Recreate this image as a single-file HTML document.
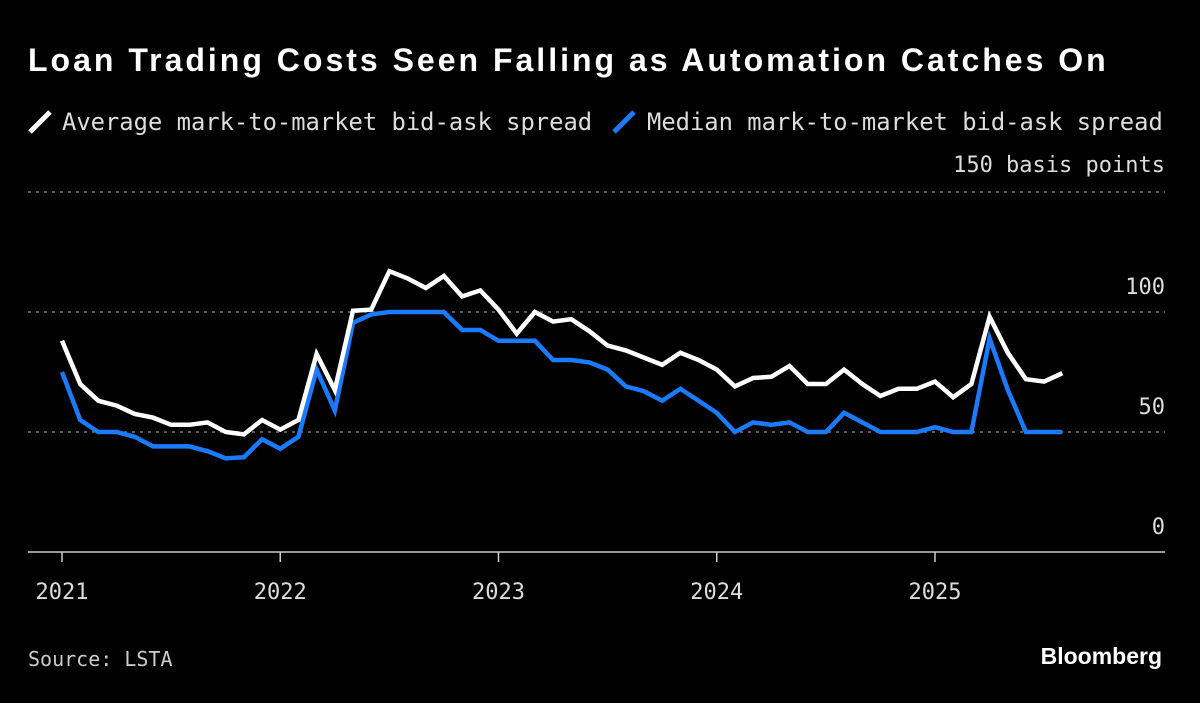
<!DOCTYPE html>
<html><head><meta charset="utf-8"><style>
body{margin:0;background:#000;width:1200px;height:698px;overflow:hidden;font-family:"Liberation Sans",sans-serif;color:#fff}
</style></head><body>
<svg width="1200" height="698" xmlns="http://www.w3.org/2000/svg">
<rect width="1200" height="698" fill="#000"/>
<text x="28" y="71" font-size="32" font-weight="bold" letter-spacing="3.0" fill="#fff">Loan Trading Costs Seen Falling as Automation Catches On</text>
<g font-family="DejaVu Sans Mono, Liberation Mono, monospace" font-size="23.8" fill="#ddd">
<line x1="30" y1="132" x2="50" y2="112" stroke="#fff" stroke-width="5"/>
<text x="62" y="130">Average mark-to-market bid-ask spread</text>
<line x1="614" y1="132" x2="634" y2="112" stroke="#1a7bff" stroke-width="5"/>
<text x="647" y="130">Median mark-to-market bid-ask spread</text>
</g>
<g id="grid"></g>
<g id="series"></g>
<g id="xaxis"></g>
<text x="28" y="666" font-family="DejaVu Sans Mono, Liberation Mono, monospace" font-size="20" fill="#ccc">Source: LSTA</text>
<text x="1162" y="664" text-anchor="end" font-size="23" font-weight="bold" fill="#fff">Bloomberg</text>
</svg>
<script>
const yTicks=[0,50,100,150];
const yTickLabels=["0","50","100","150 basis points"];
const years=["2021","2022","2023","2024","2025"];
const average=[88,70,63,61,57.5,56,53,53,54,50,49,55,51,55,82.5,67.5,100.5,101,117,114,110,115,106.5,109,101,91,100,96,97,92,86,84,81,78,83,80,76,69,72.5,73,77.5,70,70,76,70,65,68,68,71,64.5,70,98,83,72,71,74.5];
const median=[75,55,50,50,48,44,44,44,42,39,39.5,47,43,48,76,59,95.5,99,100,100,100,100,92.5,92.5,88,88,88,80,80,79,76,69,67,63,68,63,58,50,54,53,54,50,50,58,54,50,50,50,52,50,50,89,67.5,50,50,50];
const NS="http://www.w3.org/2000/svg";
const y=v=>552-v*2.4;
const x=i=>62+i*(218.25/12);
const grid=document.getElementById('grid');
yTicks.forEach((t,k)=>{
  if(t>0){const l=document.createElementNS(NS,'line');
  l.setAttribute('x1',28);l.setAttribute('x2',1165);l.setAttribute('y1',y(t));l.setAttribute('y2',y(t));
  l.setAttribute('stroke','#777');l.setAttribute('stroke-width',1.5);l.setAttribute('stroke-dasharray','3 5');
  
  
  grid.appendChild(l);}
  const tx=document.createElementNS(NS,'text');
  tx.setAttribute('x',1165);tx.setAttribute('y',y(t)-18+(t===150?-2:0));tx.setAttribute('text-anchor','end');
  tx.setAttribute('font-family','DejaVu Sans Mono, Liberation Mono, monospace');tx.setAttribute('font-size',22);tx.setAttribute('fill','#ddd');
  tx.textContent=yTickLabels[k];
  
  
  grid.appendChild(tx);
});
const base=document.createElementNS(NS,'line');
base.setAttribute('x1',28);base.setAttribute('x2',1165);base.setAttribute('y1',552);base.setAttribute('y2',552);
base.setAttribute('stroke','#ccc');base.setAttribute('stroke-width',1.5);


grid.appendChild(base);
const xa=document.getElementById('xaxis');
years.forEach((yr,k)=>{
  const px=x(k*12);
  const l=document.createElementNS(NS,'line');
  l.setAttribute('x1',px);l.setAttribute('x2',px);l.setAttribute('y1',552);l.setAttribute('y2',562);l.setAttribute('stroke','#ccc');l.setAttribute('stroke-width',1.5);
  
  
  xa.appendChild(l);
  const t=document.createElementNS(NS,'text');
  t.setAttribute('x',px);t.setAttribute('y',599);t.setAttribute('text-anchor','middle');
  t.setAttribute('font-family','DejaVu Sans Mono, Liberation Mono, monospace');t.setAttribute('font-size',22);t.setAttribute('fill','#ddd');
  t.textContent=yr;
  
  
  xa.appendChild(t);
});
const sg=document.getElementById('series');
[[median,'#1a7bff','median-line'],[average,'#fff','average-line']].forEach(([d,c,n])=>{
  const p=document.createElementNS(NS,'polyline');
  p.setAttribute('points',d.map((v,i)=>x(i).toFixed(1)+','+y(v).toFixed(1)).join(' '));
  p.setAttribute('fill','none');p.setAttribute('stroke',c);p.setAttribute('stroke-width',4.5);p.setAttribute('stroke-linejoin','miter');
  
  
  sg.appendChild(p);
});
</script>
</body></html>
